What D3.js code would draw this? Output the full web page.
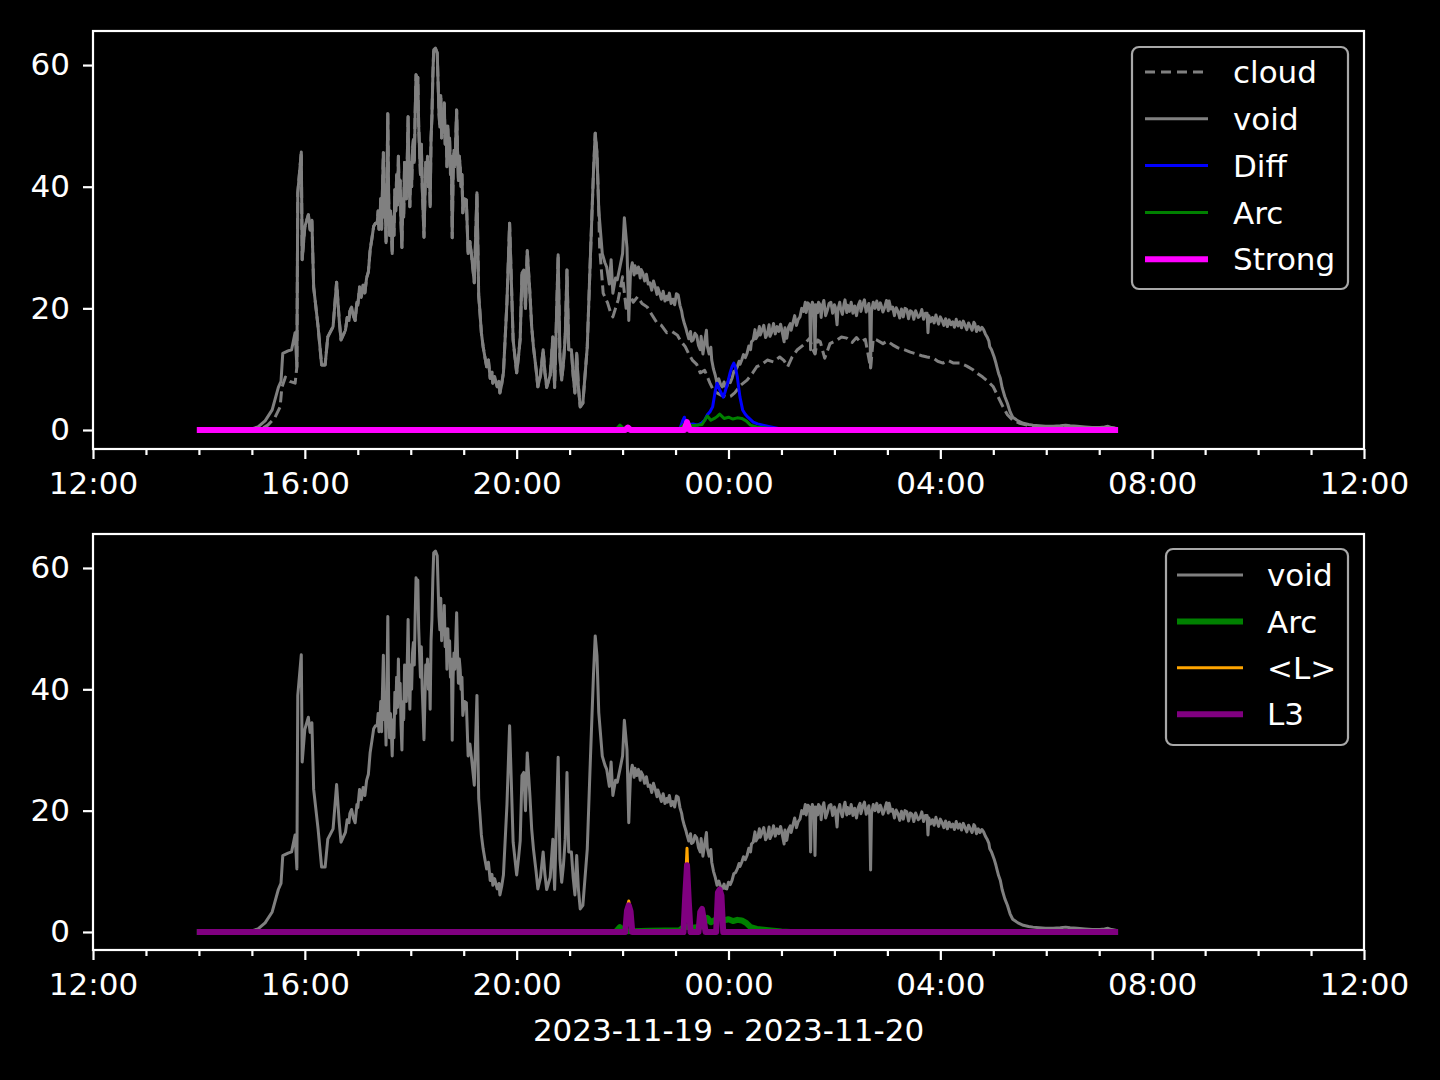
<!DOCTYPE html>
<html><head><meta charset="utf-8">
<script src="https://cdn.jsdelivr.net/npm/d3@7"></script>
<style>
html,body{margin:0;padding:0;background:#000;}
svg{display:block;}
text{font-family:"DejaVu Sans",sans-serif;fill:#fff;}
</style></head>
<body>
<svg id="chart" width="1440" height="1080"></svg>
<script>
// ---------------- data ----------------
const voidTimes = ["14:01","14:30","14:58","15:07","15:15","15:23","15:30","15:33","15:35","15:41","15:45","15:49","15:51","15:52","15:56","15:57","16:00","16:04","16:06","16:08","16:10","16:15","16:19","16:23","16:26","16:32","16:36","16:39","16:41","16:46","16:48","16:50","16:51","16:53","16:55","16:57","16:59","17:00","17:02","17:04","17:06","17:08","17:10","17:12","17:14","17:16","17:18","17:20","17:22","17:23","17:24","17:25","17:26","17:27","17:28","17:29","17:30","17:31","17:32","17:33","17:34","17:35","17:36","17:37","17:38","17:39","17:40","17:41","17:42","17:43","17:44","17:45","17:46","17:47","17:48","17:49","17:50","17:51","17:52","17:53","17:54","17:55","17:56","17:57","17:58","17:59","18:00","18:01","18:02","18:03","18:04","18:05","18:06","18:07","18:08","18:09","18:10","18:11","18:12","18:13","18:14","18:15","18:16","18:17","18:18","18:19","18:20","18:21","18:22","18:23","18:24","18:25","18:26","18:28","18:30","18:31","18:32","18:33","18:34","18:35","18:36","18:37","18:38","18:39","18:40","18:41","18:42","18:43","18:44","18:45","18:46","18:47","18:48","18:49","18:50","18:51","18:52","18:53","18:54","18:55","18:56","18:57","18:58","18:59","19:01","19:03","19:05","19:07","19:09","19:12","19:15","19:17","19:18","19:20","19:22","19:24","19:26","19:28","19:30","19:32","19:33","19:35","19:38","19:40","19:41","19:43","19:45","19:49","19:52","19:56","20:00","20:02","20:04","20:06","20:08","20:10","20:12","20:15","20:17","20:19","20:22","20:24","20:27","20:30","20:32","20:34","20:38","20:41","20:43","20:47","20:49","20:51","20:53","20:55","20:57","20:59","21:02","21:04","21:06","21:08","21:10","21:12","21:15","21:20","21:23","21:27","21:29","21:31","21:33","21:37","21:40","21:42","21:45","21:47","21:49","21:52","21:54","21:57","22:00","22:02","22:05","22:07","22:09","22:11","22:13","22:14","22:16","22:18","22:20","22:21","22:23","22:25","22:27","22:29","22:31","22:33","22:35","22:37","22:39","22:40","22:42","22:44","22:46","22:48","22:50","22:51","22:53","22:55","22:57","22:59","23:01","23:03","23:05","23:07","23:08","23:10","23:12","23:13","23:15","23:17","23:18","23:20","23:22","23:24","23:26","23:28","23:29","23:31","23:33","23:35","23:36","23:38","23:40","23:41","23:43","23:45","23:47","23:49","23:51","23:53","23:55","23:56","23:58","00:00","00:02","00:04","00:06","00:08","00:10","00:12","00:13","00:15","00:17","00:19","00:21","00:23","00:25","00:26","00:28","00:30","00:31","00:33","00:35","00:36","00:38","00:40","00:42","00:44","00:46","00:47","00:49","00:51","00:53","00:55","00:57","00:59","01:01","01:03","01:04","01:06","01:08","01:10","01:11","01:13","01:15","01:17","01:19","01:21","01:23","01:25","01:27","01:28","01:30","01:32","01:33","01:34","01:35","01:37","01:38","01:39","01:41","01:42","01:44","01:45","01:46","01:48","01:50","01:52","01:54","01:56","01:58","02:00","02:01","02:03","02:04","02:06","02:07","02:09","02:11","02:12","02:14","02:15","02:17","02:19","02:21","02:23","02:25","02:27","02:29","02:30","02:32","02:34","02:36","02:37","02:39","02:40","02:41","02:42","02:44","02:46","02:48","02:50","02:52","02:53","02:55","02:57","02:59","03:01","03:02","03:04","03:06","03:08","03:10","03:12","03:14","03:16","03:18","03:20","03:22","03:24","03:26","03:28","03:30","03:32","03:35","03:37","03:39","03:41","03:43","03:45","03:46","03:47","03:49","03:51","03:53","03:55","03:56","03:58","04:00","04:02","04:04","04:06","04:08","04:10","04:12","04:14","04:16","04:18","04:20","04:22","04:24","04:26","04:28","04:30","04:32","04:34","04:36","04:38","04:39","04:41","04:43","04:45","04:47","04:49","04:51","04:53","04:55","04:56","04:58","05:01","05:03","05:04","05:06","05:08","05:10","05:13","05:16","05:19","05:22","05:28","05:34","05:40","05:45","05:52","05:59","06:08","06:16","06:22","06:27","06:35","06:44","06:52","07:01","07:06","07:10","07:14","07:18"];
const voidValues = [0,0,0.1,0.5,1.5,3.3,7,8,12.6,13,13.2,16,10.4,39,45.7,28,33.4,35.4,32.9,34.5,23.5,17,10.7,10.7,15.3,17,24.3,18,14.8,16.4,18.5,18,19.5,20.2,18.8,18,21,20.5,23.5,21.8,23.8,22.5,25,26,29.6,31.5,33.5,34,34,36,33,34.5,38,33,40,45.6,35,38,30.8,40,52,38,32,36,33,29,35,32,39.5,36,42,37,45,38,41,34,30,38,35,44,42,38,44,51.5,42,36.7,44,40,46,47.7,44,52,58.4,54,58,50,46,42,47,40,36,31.7,38,44,41,45,40,44,36.7,48,51.5,58,62.5,62.8,62,57,52,49.8,55,48,52,49,53.8,47,50,43.3,50,45,48,42,45,31.6,42,46,43.3,48,52.6,46,41,45,43.3,40,42,35.7,38,37.8,29,31,28.5,24.2,39,22,20.2,16,13.7,12,10.4,11.5,8.5,9.5,7.7,8.8,7.1,8,6.1,7.5,9.4,21,34,14.8,9.4,12,15,25.8,26.3,20,29.5,22.5,17,13.7,10,7.1,9,13.2,9.5,7,9,15.3,7,28.8,12,8.2,11,15.3,26.3,13.2,13.2,9,6.1,12.6,7,3.8,4.4,13.7,26.3,42.3,48.8,45.5,36.2,29,27.5,26.8,24,28,22.5,25,24.7,26.8,29,34.9,30,18,26,27.5,25.5,27,25.8,26.8,25,26.4,25.8,24.5,25.6,24,24.2,23,24.5,23.5,22.3,23.4,22.5,21.5,22.8,21.2,22,21.4,22.5,20.8,21.5,20.6,22.4,22.2,20.5,19.5,18.6,17.5,16.6,16,15,16.2,14.6,14.8,15.9,15.5,13.9,13.2,15.4,12.5,14.5,16.4,13.8,12.5,13.6,11.5,10,9,7.7,8.4,7.5,7.1,7.9,7.2,7.1,8.2,7.8,8.5,9.6,9.8,10.4,11.3,10.8,11.5,12.4,11.9,12.6,13.8,13.2,14.5,14.8,16.5,15,15.5,17,15.6,16.4,17.2,15.2,15.8,17.3,15.4,16.1,17.5,15.8,17,16.2,17.4,16,14.5,16.8,15.1,16.9,17.5,16.4,17.6,18.8,17.2,18.2,18.6,20,19.5,21,19.3,20.9,20.5,13.2,20,21,20.2,12.6,20.6,19.3,21,20.5,18.5,20.2,21.3,18.8,19.7,20.8,21,19.2,20.6,20.2,17.3,19.8,21,20,19,20.8,21.4,19.3,20.5,19.5,21,19.2,20.4,18.8,20.5,21.2,19.5,20.6,21.4,19.4,19.8,20.8,19.2,10.2,19.5,21,20,21.2,19.8,20.9,20.5,19.4,20.2,21.3,19.6,21.2,19.9,20.2,18.8,20.1,19.5,18.4,19.9,18.6,20,19.8,18.3,19.6,19.4,18.2,19.6,18.5,18.8,19.8,18.2,19.2,19.2,16,18.8,17.8,18.5,17.6,18.9,18.4,17.4,18.6,18,17.2,18.3,17,18.1,17.3,17.8,16.9,18.2,17.1,17.8,16.8,17.9,17.2,16.5,17.6,17,16.4,17.7,17.5,16.2,17,16.4,16.9,16.5,15.8,15.3,14.6,13.7,13.2,12,11,10.4,9.3,8.5,7,5.5,4.4,3,2.1,1.5,1.1,0.9,0.8,0.7,0.6,0.6,0.7,0.8,0.7,0.6,0.5,0.4,0.4,0.5,0.6,0.4,0.3];

// cloud: own values where it departs from void, void values where they coincide
const cloudEarlyTimes = ["14:01","14:58","15:10","15:18","15:26","15:32","15:34","15:38","15:43","15:49"];
const cloudEarlyValues = [0,0,0.1,0.8,2.0,3.8,7,8.7,8,7.7];
const cloudSharedFrom = "15:51", cloudSharedTo = "21:33";
const cloudLateTimes = ["21:34","21:38","21:43","21:46","21:49","21:52","21:55","22:00","22:04","22:08","22:12","22:17","22:22","22:28","22:33","22:39","22:44","22:50","22:56","23:02","23:06","23:11","23:15","23:19","23:24","23:28","23:33","23:39","23:43","23:47","23:52","23:58","00:03","00:07","00:14","00:21","00:27","00:32","00:38","00:44","00:51","00:58","01:03","01:07","01:12","01:18","01:25","01:32","01:35","01:38","01:41","01:44","01:49","01:55","02:03","02:08","02:14","02:20","02:25","02:29","02:35","02:41","02:44","02:48","02:55","03:00","03:06","03:12","03:19","03:26","03:33","03:39","03:45","03:52","03:57","04:03","04:09","04:15","04:22","04:30","04:37","04:43","04:48","04:54","05:00","05:05","05:11","05:16","05:22","05:30","05:38","05:48","05:59","06:20","06:38","07:00","07:18"];
const cloudLateValues = [30,22.5,20.9,19.5,18.6,20,21.4,25.2,20,22.5,21,21.9,20.8,20.2,19,17.6,17.2,16,16.2,15.6,14.6,13.7,12.5,11.5,10.8,9.4,9.8,7.7,6.5,6.1,5.7,5.4,5.6,6.1,7.4,8.2,9.3,10.4,10.8,11.5,11.2,12,11.4,10.4,12,13.2,14,15.1,13.4,12.5,14.8,14.5,11.8,14.2,14.8,15.3,15.1,14.4,15.2,14.5,14.9,10.2,15,14.8,14.2,14.6,14,13.5,13.2,12.8,12.5,12.2,12,11.8,11.3,11,11.4,11,11,10.5,9.9,9.2,8.7,8,7.1,5.6,3.8,2.5,1.6,1.1,0.8,0.6,0.5,0.4,0.4,0.35,0.3];

const diffTimes = ["14:01","21:50","21:56","22:00","23:05","23:08","23:10","23:12","23:16","23:20","23:25","23:30","23:33","23:36","23:39","23:42","23:45","23:47","23:50","23:52","23:54","23:56","23:59","00:02","00:04","00:06","00:08","00:10","00:13","00:16","00:19","00:22","00:28","00:33","00:39","00:48","00:58","01:10","07:18"];
const diffValues = [0,0,0.3,0,0.2,1.5,2.1,1.2,0.9,1.0,0.8,1.2,1.6,2.5,3.0,3.8,6.4,7.7,6.6,6.0,5.4,6.2,7.7,9.5,10.4,11,10.2,8.7,5.4,3.3,2.6,2.1,1.3,1.0,0.8,0.5,0.2,0,0];

const arcTimes = ["14:01","21:52","21:57","22:02","22:30","23:05","23:10","23:20","23:30","23:36","23:40","23:44","23:47","23:50","23:55","00:00","00:05","00:10","00:15","00:20","00:25","00:32","00:45","01:00","01:10","07:18"];
const arcValues = [0,0,0.8,0.1,0.2,0.3,0.9,0.7,0.9,2.3,1.6,1.9,2.2,2.6,1.9,2.1,1.8,2.0,1.9,1.5,0.8,0.5,0.3,0.1,0,0];

const strongTimes = ["14:01","22:03","22:06","22:09","23:10","23:13","23:16","07:18"];
const strongValues = [0,0,0.4,0,0,1.3,0,0];

const lTimes  = ["14:01","22:03","22:05","22:07","22:09","22:11","23:09","23:11","23:13","23:15","23:17","23:26","23:28","23:30","23:32","23:34","23:46","23:48","23:50","23:52","23:54","07:18"];
const lValues = [0,0,3.9,5.1,3.6,0,0,7,13.8,5.5,0,0,3.4,3.9,2,0,0,6.6,7.2,6.1,0,0];
const l3Values = [0,0,3.5,4.4,3.4,0,0,6,11,5,0,0,3.3,3.8,2,0,0,6.5,7,6,0,0];

const xTickLabels = ["12:00","16:00","20:00","00:00","04:00","08:00","12:00"];
const yTickValues = [0,20,40,60];
const xAxisTitle = "2023-11-19 - 2023-11-20";

// ---------------- helpers ----------------
function parseT(s){
  const [h,m] = s.split(":").map(Number);
  return new Date(2023, 10, h >= 12 ? 19 : 20, h, m);
}
function series(times, values){ return times.map((t,i)=>({t:parseT(t), v:values[i]})); }

const voidData = series(voidTimes, voidValues);
const cFrom = parseT(cloudSharedFrom), cTo = parseT(cloudSharedTo);
const cloudData = series(cloudEarlyTimes, cloudEarlyValues)
  .concat(voidData.filter(d => d.t >= cFrom && d.t <= cTo))
  .concat(series(cloudLateTimes, cloudLateValues));
const diffData = series(diffTimes, diffValues);
const arcData = series(arcTimes, arcValues);
const strongData = series(strongTimes, strongValues);
const lData = series(lTimes, lValues);
const l3Data = series(lTimes, l3Values);

// ---------------- layout ----------------
const svg = d3.select("#chart");
svg.append("rect").attr("width",1440).attr("height",1080).attr("fill","#000");

const xLeft = 93, xRight = 1364;
const panels = [{top:31, bottom:449}, {top:534, bottom:950}];
const x = d3.scaleTime()
  .domain([new Date(2023,10,19,12,0), new Date(2023,10,20,12,0)])
  .range([xLeft, xRight]);

const FS = 31;

function drawAxes(g, y, p){
  const majors = xTickLabels.map((s,i)=> new Date(2023,10,19,12 + 4*i,0));
  const minors = d3.timeHour.range(new Date(2023,10,19,12,0), new Date(2023,10,20,12,1));
  const xa = d3.axisBottom(x).tickValues(majors).tickSize(10).tickPadding(6)
      .tickFormat((d,i)=>xTickLabels[i]);
  const gx = g.append("g").attr("transform",`translate(0,${p.bottom})`).call(xa);
  const xm = d3.axisBottom(x).tickValues(minors.filter(d=>d.getHours()%4!==0)).tickSize(6).tickFormat("");
  const gxm = g.append("g").attr("transform",`translate(0,${p.bottom})`).call(xm);
  const ya = d3.axisLeft(y).tickValues(yTickValues).tickSize(10).tickPadding(13);
  const gy = g.append("g").attr("transform",`translate(${xLeft},0)`).call(ya);
  [gx,gxm,gy].forEach(a=>{
    a.select(".domain").remove();
    a.selectAll(".tick line").attr("stroke","#fff").attr("stroke-width",2.2);
    a.selectAll(".tick text").attr("fill","#fff").style("font-size",FS+"px").style("font-family","DejaVu Sans");
  });
  gx.selectAll(".tick text").attr("dy","0.95em");
  g.append("rect").attr("x",xLeft).attr("y",p.top).attr("width",xRight-xLeft).attr("height",p.bottom-p.top)
    .attr("fill","none").attr("stroke","#fff").attr("stroke-width",2.2);
}

function drawLine(g, y, data, color, width, dash){
  const line = d3.line().x(d=>x(d.t)).y(d=>y(d.v)).curve(d3.curveLinear);
  const path = g.append("path").datum(data).attr("d",line)
    .attr("fill","none").attr("stroke",color).attr("stroke-width",width)
    .attr("stroke-linejoin","round").attr("stroke-linecap", dash ? "butt" : "square");
  if (dash) path.attr("stroke-dasharray",dash);
}

function drawLegend(g, box, items){
  g.append("rect").attr("x",box.x).attr("y",box.y).attr("width",box.w).attr("height",box.h)
    .attr("rx",7).attr("fill","#000").attr("fill-opacity",0.8)
    .attr("stroke","#a8a8a8").attr("stroke-width",2.2);
  items.forEach((it,i)=>{
    const cy = box.firstRow + i*box.step;
    const l = g.append("line").attr("x1",box.hx1).attr("x2",box.hx2).attr("y1",cy).attr("y2",cy)
      .attr("stroke",it.color).attr("stroke-width",it.width);
    if (it.dash) l.attr("stroke-dasharray",it.dash);
    g.append("text").attr("x",box.tx).attr("y",cy).attr("dy","0.36em")
      .style("font-size",FS+"px").text(it.label);
  });
}

// ---------------- top panel ----------------
const p1 = panels[0];
const y1 = d3.scaleLinear().domain([-3.125, 65.6]).range([p1.bottom, p1.top]);
const g1 = svg.append("g");
const clip1 = svg.append("clipPath").attr("id","c1");
clip1.append("rect").attr("x",xLeft).attr("y",p1.top).attr("width",xRight-xLeft).attr("height",p1.bottom-p1.top);
const d1 = g1.append("g").attr("clip-path","url(#c1)");
drawLine(d1, y1, cloudData, "#808080", 3, "11,5");
drawLine(d1, y1, voidData, "#808080", 3);
drawLine(d1, y1, diffData, "#0000ff", 3);
drawLine(d1, y1, arcData, "#008000", 3);
drawLine(d1, y1, strongData, "#ff00ff", 6);
drawAxes(g1, y1, p1);
drawLegend(g1, {x:1132, y:47, w:216, h:242, firstRow:72, step:46.8, hx1:1145, hx2:1208, tx:1233}, [
  {label:"cloud", color:"#808080", width:3, dash:"10,6"},
  {label:"void", color:"#808080", width:3},
  {label:"Diff", color:"#0000ff", width:3},
  {label:"Arc", color:"#008000", width:3},
  {label:"Strong", color:"#ff00ff", width:6}
]);

// ---------------- bottom panel ----------------
const p2 = panels[1];
const y2 = d3.scaleLinear().domain([-2.97, 65.6]).range([p2.bottom, p2.top]);
const g2 = svg.append("g");
const clip2 = svg.append("clipPath").attr("id","c2");
clip2.append("rect").attr("x",xLeft).attr("y",p2.top).attr("width",xRight-xLeft).attr("height",p2.bottom-p2.top);
const d2 = g2.append("g").attr("clip-path","url(#c2)");
drawLine(d2, y2, voidData, "#808080", 3);
drawLine(d2, y2, arcData, "#008000", 6);
drawLine(d2, y2, lData, "#ffa500", 3);
drawLine(d2, y2, l3Data, "#800080", 6);
drawAxes(g2, y2, p2);
drawLegend(g2, {x:1166, y:549, w:182, h:196, firstRow:575, step:46.4, hx1:1177, hx2:1243, tx:1267}, [
  {label:"void", color:"#808080", width:3},
  {label:"Arc", color:"#008000", width:6},
  {label:"<L>", color:"#ffa500", width:3},
  {label:"L3", color:"#800080", width:6}
]);

svg.append("text").attr("x",(xLeft+xRight)/2).attr("y",1030).attr("dy","0.36em")
  .attr("text-anchor","middle").style("font-size",FS+"px").text(xAxisTitle);
</script>
</body></html>
